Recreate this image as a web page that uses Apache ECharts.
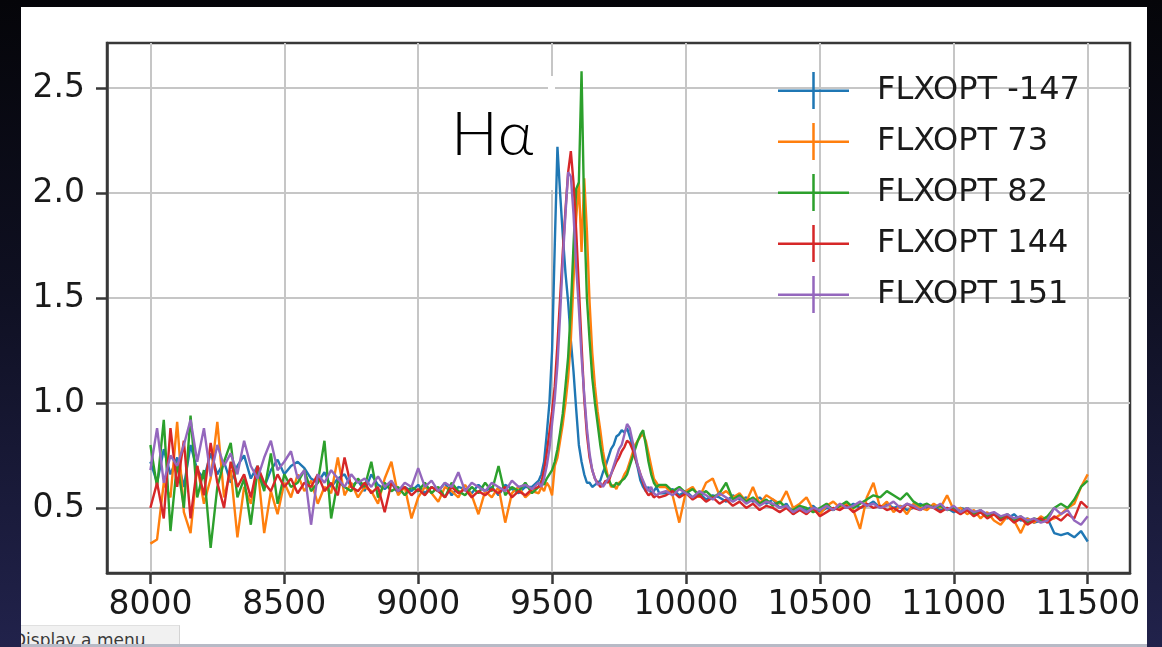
<!DOCTYPE html>
<html>
<head>
<meta charset="utf-8">
<title>FLXOPT spectra</title>
<script src="https://cdn.jsdelivr.net/npm/echarts@6/dist/echarts.min.js"></script>
<style>
html, body { margin: 0; padding: 0; }
body {
  width: 1162px; height: 647px; overflow: hidden; position: relative;
  background: linear-gradient(to bottom, #050509 0%, #0f1022 45%, #21224b 100%);
}
#paper { position: absolute; left: 21px; top: 7px; width: 1126px; height: 638px; background: #fff; overflow: hidden; }
#tip {
  position: absolute; left: -8px; top: 618px; width: 167px; height: 24px;
  background: #f1f1f1; border-right: 1px solid #d4d4d4; border-top: 1px solid #e0e0e0;
  font: 17px "DejaVu Sans", sans-serif; color: #3a3a3a; line-height: 17px;
  padding-top: 6px; box-sizing: border-box;
}
#edge { position: absolute; left: 21px; top: 644px; width: 1126px; height: 3px; background: #b7bac6; }
#chart { position: absolute; left: 0; top: 0; width: 1162px; height: 647px; }
</style>
</head>
<body>
<div id="paper"><div id="tip">Display a menu</div></div>
<div id="edge"></div>
<div id="chart"></div>
<script>
// wavelength grid: 25 step, 10 step around H-alpha, 25 step after
const wavelength = [
  8000,8025,8050,8075,8100,8125,8150,8175,8200,8225,
  8250,8275,8300,8325,8350,8375,8400,8425,8450,8475,
  8500,8525,8550,8575,8600,8625,8650,8675,8700,8725,
  8750,8775,8800,8825,8850,8875,8900,8925,8950,8975,
  9000,9025,9050,9075,9100,9125,9150,9175,9200,9225,
  9250,9275,9300,9325,9350,9375,9400,9425,9450,
  9460,9470,9480,9490,9500,9510,9520,9530,9540,9550,
  9560,9570,9580,9590,9600,9610,9620,9630,9640,9650,
  9660,9670,9680,9690,9700,9710,9720,9730,9740,9750,
  9760,9770,9780,9790,9800,9810,9820,9830,9840,9850,
  9860,9870,9880,9890,9900,
  9925,9950,9975,10000,10025,10050,10075,10100,10125,10150,
  10175,10200,10225,10250,10275,10300,10325,10350,10375,10400,
  10425,10450,10475,10500,10525,10550,10575,10600,10625,10650,
  10675,10700,10725,10750,10775,10800,10825,10850,10875,10900,
  10925,10950,10975,11000,11025,11050,11075,11100,11125,11150,
  11175,11200,11225,11250,11275,11300,11325,11350,11375,11400,
  11425,11450,11475,11500
];

const flx_m147 = [
  0.72,0.62,0.78,0.66,0.74,0.60,0.80,0.68,0.64,0.76,
  0.66,0.72,0.62,0.70,0.75,0.64,0.70,0.60,0.68,0.73,
  0.66,0.70,0.72,0.69,0.64,0.62,0.67,0.60,0.64,0.66,
  0.60,0.63,0.58,0.66,0.61,0.59,0.62,0.57,0.60,0.58,
  0.61,0.57,0.60,0.58,0.62,0.56,0.60,0.59,0.57,0.61,
  0.58,0.60,0.56,0.61,0.59,0.57,0.60,0.60,0.63,
  0.66,0.72,0.85,1.00,1.25,1.75,2.22,2.00,1.80,1.62,
  1.48,1.30,1.15,0.97,0.80,0.72,0.66,0.62,0.62,0.60,
  0.61,0.62,0.63,0.67,0.70,0.74,0.78,0.80,0.84,0.85,
  0.87,0.86,0.88,0.84,0.80,0.74,0.69,0.63,0.60,0.58,
  0.60,0.57,0.58,0.60,0.57,
  0.57,0.59,0.56,0.58,0.55,0.57,0.54,0.56,0.55,0.53,
  0.56,0.54,0.55,0.53,0.55,0.52,0.54,0.50,0.52,0.47,
  0.50,0.49,0.51,0.48,0.50,0.49,0.51,0.50,0.52,0.50,
  0.51,0.53,0.50,0.52,0.50,0.51,0.49,0.50,0.52,0.50,
  0.51,0.49,0.50,0.48,0.50,0.49,0.47,0.48,0.46,0.47,
  0.46,0.45,0.47,0.44,0.45,0.43,0.44,0.45,0.38,0.37,
  0.38,0.36,0.39,0.34
];

const flx_73 = [
  0.33,0.35,0.62,0.55,0.91,0.48,0.38,0.70,0.52,0.64,
  0.91,0.55,0.68,0.36,0.60,0.52,0.70,0.38,0.58,0.47,
  0.62,0.55,0.66,0.58,0.63,0.52,0.60,0.57,0.74,0.56,
  0.62,0.55,0.60,0.58,0.52,0.64,0.72,0.56,0.60,0.45,
  0.55,0.60,0.57,0.53,0.60,0.58,0.55,0.61,0.56,0.47,
  0.58,0.55,0.60,0.43,0.57,0.60,0.55,0.58,0.57,
  0.60,0.58,0.62,0.60,0.56,0.70,0.74,0.82,0.90,1.00,
  1.12,1.30,1.58,1.88,2.05,1.72,2.07,1.82,1.48,1.24,
  1.08,0.96,0.87,0.77,0.70,0.64,0.60,0.61,0.59,0.62,
  0.63,0.66,0.68,0.72,0.76,0.80,0.82,0.84,0.85,0.82,
  0.76,0.70,0.64,0.62,0.60,
  0.60,0.56,0.43,0.58,0.60,0.55,0.62,0.64,0.56,0.58,
  0.55,0.57,0.53,0.60,0.52,0.56,0.54,0.52,0.58,0.50,
  0.52,0.55,0.49,0.47,0.51,0.53,0.50,0.52,0.49,0.40,
  0.55,0.62,0.50,0.53,0.48,0.51,0.47,0.52,0.50,0.49,
  0.52,0.50,0.56,0.49,0.50,0.47,0.49,0.45,0.48,0.44,
  0.42,0.46,0.44,0.38,0.45,0.43,0.46,0.44,0.45,0.47,
  0.50,0.52,0.60,0.66
];

const flx_82 = [
  0.80,0.60,0.92,0.39,0.72,0.50,0.94,0.55,0.68,0.31,
  0.60,0.72,0.81,0.55,0.64,0.42,0.68,0.58,0.76,0.52,
  0.66,0.60,0.62,0.68,0.58,0.62,0.82,0.45,0.63,0.60,
  0.58,0.64,0.60,0.72,0.55,0.62,0.58,0.60,0.56,0.60,
  0.58,0.62,0.57,0.60,0.55,0.62,0.58,0.56,0.60,0.57,
  0.62,0.58,0.70,0.56,0.60,0.58,0.62,0.57,0.60,
  0.63,0.61,0.64,0.66,0.68,0.72,0.78,0.86,0.95,1.08,
  1.22,1.45,1.75,2.02,2.05,2.58,1.90,1.50,1.30,1.12,
  1.00,0.90,0.80,0.72,0.67,0.64,0.61,0.60,0.62,0.61,
  0.63,0.64,0.66,0.70,0.74,0.78,0.82,0.85,0.87,0.80,
  0.72,0.66,0.62,0.60,0.61,
  0.61,0.58,0.60,0.57,0.59,0.56,0.58,0.55,0.57,0.62,
  0.54,0.56,0.53,0.55,0.52,0.54,0.51,0.53,0.50,0.49,
  0.51,0.50,0.48,0.50,0.52,0.49,0.51,0.53,0.50,0.52,
  0.54,0.56,0.55,0.58,0.56,0.54,0.57,0.53,0.51,0.52,
  0.50,0.51,0.49,0.50,0.48,0.50,0.47,0.49,0.46,0.47,
  0.45,0.47,0.44,0.46,0.43,0.45,0.44,0.46,0.50,0.52,
  0.50,0.54,0.60,0.63
];

const flx_144 = [
  0.50,0.62,0.45,0.88,0.60,0.82,0.45,0.70,0.56,0.81,
  0.62,0.50,0.72,0.60,0.66,0.55,0.70,0.62,0.58,0.66,
  0.60,0.64,0.57,0.62,0.60,0.66,0.58,0.62,0.56,0.74,
  0.60,0.58,0.62,0.57,0.60,0.48,0.62,0.58,0.60,0.56,
  0.59,0.56,0.60,0.58,0.55,0.60,0.57,0.59,0.55,0.58,
  0.56,0.59,0.57,0.60,0.55,0.58,0.56,0.59,0.60,
  0.62,0.68,0.76,0.86,0.96,1.08,1.28,1.50,1.72,1.92,
  2.10,2.20,2.05,1.82,1.55,1.28,1.02,0.85,0.74,0.68,
  0.64,0.62,0.60,0.61,0.63,0.62,0.66,0.69,0.72,0.74,
  0.77,0.79,0.82,0.81,0.78,0.74,0.70,0.66,0.62,0.58,
  0.56,0.57,0.55,0.56,0.55,
  0.56,0.58,0.55,0.57,0.54,0.56,0.53,0.55,0.52,0.54,
  0.51,0.53,0.50,0.52,0.49,0.51,0.50,0.48,0.50,0.47,
  0.49,0.47,0.50,0.46,0.48,0.50,0.49,0.51,0.48,0.50,
  0.52,0.50,0.51,0.49,0.50,0.48,0.52,0.50,0.49,0.51,
  0.50,0.48,0.50,0.49,0.47,0.49,0.46,0.48,0.45,0.47,
  0.44,0.46,0.43,0.45,0.42,0.44,0.45,0.43,0.46,0.44,
  0.47,0.45,0.53,0.50
];

const flx_151 = [
  0.68,0.88,0.62,0.75,0.70,0.80,0.92,0.72,0.88,0.65,
  0.80,0.70,0.76,0.66,0.82,0.70,0.64,0.74,0.82,0.68,
  0.72,0.77,0.64,0.68,0.42,0.66,0.62,0.68,0.64,0.60,
  0.66,0.62,0.64,0.60,0.65,0.60,0.63,0.58,0.62,0.60,
  0.69,0.60,0.63,0.58,0.62,0.60,0.67,0.58,0.62,0.60,
  0.58,0.62,0.60,0.58,0.63,0.60,0.61,0.59,0.62,
  0.60,0.64,0.70,0.78,0.90,1.02,1.18,1.42,1.68,1.90,
  2.10,2.08,1.90,1.65,1.45,1.22,1.04,0.88,0.76,0.68,
  0.64,0.61,0.62,0.60,0.62,0.64,0.66,0.70,0.74,0.78,
  0.80,0.85,0.90,0.88,0.82,0.76,0.70,0.66,0.63,0.60,
  0.58,0.60,0.57,0.56,0.57,
  0.58,0.56,0.59,0.57,0.55,0.58,0.56,0.54,0.57,0.55,
  0.53,0.55,0.52,0.54,0.51,0.53,0.52,0.50,0.51,0.48,
  0.50,0.48,0.50,0.49,0.51,0.49,0.52,0.50,0.51,0.53,
  0.51,0.52,0.50,0.51,0.53,0.50,0.52,0.51,0.49,0.51,
  0.50,0.52,0.49,0.51,0.48,0.50,0.48,0.49,0.47,0.48,
  0.46,0.47,0.45,0.46,0.44,0.45,0.43,0.44,0.50,0.47,
  0.49,0.44,0.42,0.46
];

const seriesNames = ['FLXOPT -147', 'FLXOPT 73', 'FLXOPT 82', 'FLXOPT 144', 'FLXOPT 151'];
const seriesValues = [flx_m147, flx_73, flx_82, flx_144, flx_151];
const colors = ['#1f77b4', '#ff7f0e', '#2ca02c', '#d62728', '#9467bd'];
const xTicks = [8000, 8500, 9000, 9500, 10000, 10500, 11000, 11500];
const yTicks = [0.5, 1.0, 1.5, 2.0, 2.5];

const font = 'DejaVu Sans';
const axisColor = '#383838';
const gridColor = '#c6c6c6';
// errorbar style legend handle: horizontal line crossed by a vertical cap
const plusIcon = 'path://M0,17.5L71,17.5L71,20L0,20Z M34.25,0L36.75,0L36.75,37L34.25,37Z';

const chart = echarts.init(document.getElementById('chart'));

chart.setOption({
  backgroundColor: 'transparent',
  animation: false,
  color: colors,
  grid: {
    left: 107, top: 43, width: 1023, height: 530,
    show: true, borderColor: axisColor, borderWidth: 2.5
  },
  xAxis: {
    type: 'value',
    min: 7838,
    max: 11658,
    axisLine: { show: true, onZero: false, lineStyle: { color: axisColor, width: 2.5 } },
    axisTick: { show: true, customValues: xTicks, length: 11, lineStyle: { color: axisColor, width: 2.5 } },
    axisLabel: {
      customValues: xTicks, margin: 16, fontSize: 33, fontFamily: font, color: '#1a1a1a',
      formatter: v => String(v)
    },
    splitLine: { show: true, lineStyle: { color: gridColor, width: 2 } }
  },
  yAxis: {
    type: 'value',
    min: 0.19,
    max: 2.715,
    axisLine: { show: true, onZero: false, lineStyle: { color: axisColor, width: 2.5 } },
    axisTick: { show: true, customValues: yTicks, length: 11, lineStyle: { color: axisColor, width: 2.5 } },
    axisLabel: {
      customValues: yTicks, margin: 22, fontSize: 33, fontFamily: font, color: '#1a1a1a',
      formatter: v => v.toFixed(1)
    },
    splitLine: { show: true, lineStyle: { color: gridColor, width: 2 } }
  },
  legend: {
    orient: 'vertical',
    left: 778,
    top: 72,
    padding: 0,
    itemWidth: 71,
    itemHeight: 37,
    itemGap: 14,
    selectedMode: false,
    itemStyle: { borderWidth: 0 },
    textStyle: { fontSize: 32, fontFamily: font, color: '#1a1a1a', padding: [0, 0, 0, 23] },
    data: seriesNames.map(n => ({ name: n, icon: plusIcon }))
  },
  graphic: [
    { type: 'rect', z: 1, shape: { x: 548, y: 76, width: 7, height: 114 }, style: { fill: '#ffffff' } },
    {
      type: 'text', z: 10, x: 451, y: 135,
      style: { text: 'Hα', fontSize: 62, fontFamily: 'Lato', fontWeight: 300, fill: '#000', verticalAlign: 'middle' }
    }
  ],
  series: seriesNames.map((name, i) => ({
    name: name,
    type: 'line',
    symbol: 'none',
    showSymbol: false,
    data: wavelength.map((w, j) => [w, seriesValues[i][j]]),
    lineStyle: { width: 2.4, color: colors[i] },
    itemStyle: { color: colors[i] }
  }))
});
</script>
</body>
</html>
